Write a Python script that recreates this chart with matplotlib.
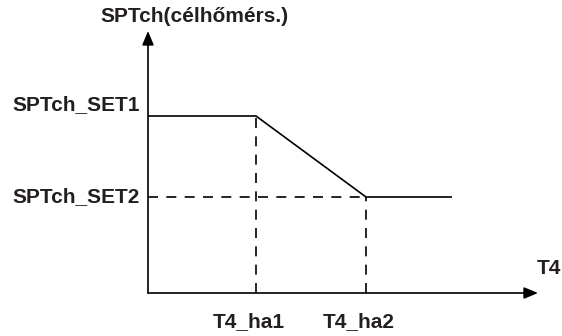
import matplotlib.pyplot as plt

plt.rcParams['font.family'] = ['Liberation Sans', 'DejaVu Sans']

# curve: SPTch vs T4 (arbitrary units, origin at axis crossing)
t4_pts = [0, 108, 218, 304]
spt_pts = [177, 177, 96, 96]
x_ticks = [108, 218]
x_tick_labels = ['T4_ha1', 'T4_ha2']
y_ticks = [177, 96]
y_tick_labels = ['SPTch_SET1', 'SPTch_SET2']

fig = plt.figure(figsize=(5.62, 3.36), dpi=100)
ax = fig.add_axes([0, 0, 1, 1])
ax.set_xlim(-148, 414)
ax.set_ylim(-43, 293)
ax.axis('off')

lw = 1.2
txt_col = '#231f20'
# axes with arrows
ax.annotate('', xy=(390, 0), xytext=(0, 0),
            arrowprops=dict(arrowstyle='-|>,head_length=0.6,head_width=0.25', color='black',
                            lw=lw, mutation_scale=14, shrinkA=0, shrinkB=0))
ax.annotate('', xy=(0, 262), xytext=(0, 0),
            arrowprops=dict(arrowstyle='-|>,head_length=0.6,head_width=0.25', color='black',
                            lw=lw, mutation_scale=14, shrinkA=0, shrinkB=0))

# the curve
ax.plot(t4_pts, spt_pts, color='black', lw=lw, solid_capstyle='butt')

# dashed guides
dash = (0, (6, 5))
ax.plot([x_ticks[0], x_ticks[0]], [0, y_ticks[0]], color='black', lw=lw, linestyle=dash)
ax.plot([x_ticks[1], x_ticks[1]], [0, y_ticks[1]], color='black', lw=lw, linestyle=dash)
ax.plot([0, x_ticks[1]], [y_ticks[1], y_ticks[1]], color='black', lw=lw, linestyle=dash)

fs = 15
for xv, lab in zip(x_ticks, x_tick_labels):
    ax.text(xv - 7, -29, lab, ha='center', va='center', fontsize=fs, fontweight='bold',
            color=txt_col)
for yv, lab in zip(y_ticks, y_tick_labels):
    ax.text(-8, yv + 11 if yv == y_ticks[0] else yv, lab, ha='right', va='center',
            fontsize=fs, fontweight='bold', color=txt_col)

ax.text(-48, 277, 'SPTch(célhőmérs.)', ha='left', va='center', fontsize=fs, fontweight='bold',
        color=txt_col)
ax.text(389, 25, 'T4', ha='left', va='center', fontsize=fs, fontweight='bold', color=txt_col)

fig.savefig('out.png', dpi=100)
